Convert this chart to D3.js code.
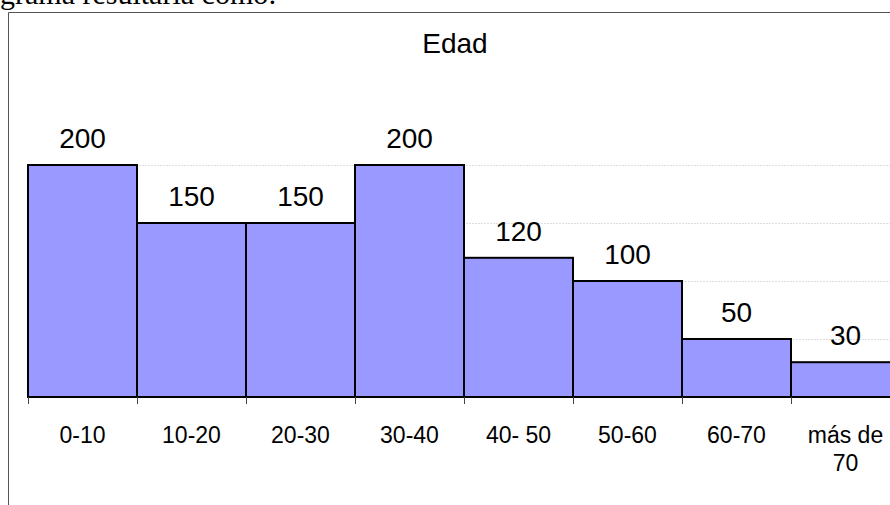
<!DOCTYPE html>
<html>
<head>
<meta charset="utf-8">
<script src="https://cdn.jsdelivr.net/npm/d3@7"></script>
<style>
  body { margin: 0; background: #fff; }
  text { font-family: "Liberation Sans", Arial, sans-serif; }
</style>
</head>
<body>
<div id="chart"></div>
<script>

// data
var categories = ["0-10", "10-20", "20-30", "30-40", "40- 50", "50-60", "60-70", "más de 70"];
var counts = [200, 150, 150, 200, 120, 100, 50, 30];
var gridValues = [50, 100, 150, 200];
var title = "Edad";
var pageText = "grama resultaría como:";

var W = 890, H = 505;

var svg = d3.select("#chart")
  .append("svg")
    .attr("width", W)
    .attr("height", H);

// cut-off line of the document above the chart
svg.append("text")
  .attr("x", 0)
  .attr("y", 4)
  .style("font-family", "'Liberation Serif', 'Times New Roman', serif")
  .style("font-size", "30px")
  .text(pageText);

// chart frame (runs off right and bottom)
svg.append("path")
  .attr("d", "M8.5," + H + "V12.5H" + (W + 5))
  .attr("fill", "none")
  .attr("stroke", "#555")
  .attr("stroke-width", 1);

// title
svg.append("text")
  .attr("x", 455)
  .attr("y", 53)
  .attr("text-anchor", "middle")
  .style("font-size", "28px")
  .text(title);

// scales
var x = d3.scaleBand()
  .domain(categories)
  .range([28, 900])
  .padding(0);

var y = d3.scaleLinear()
  .domain([0, 200])
  .range([397, 165]);

// gridlines
svg.append("g")
  .selectAll("line")
  .data(gridValues)
  .enter()
  .append("line")
    .attr("x1", 28)
    .attr("x2", 900)
    .attr("y1", function(d) { return y(d) + 0.5; })
    .attr("y2", function(d) { return y(d) + 0.5; })
    .attr("stroke", "#dedede")
    .attr("stroke-dasharray", "2,1");

// bars
svg.append("g")
  .selectAll("rect")
  .data(counts)
  .enter()
  .append("rect")
    .attr("x", function(d, i) { return x(categories[i]); })
    .attr("y", function(d) { return y(d); })
    .attr("width", x.bandwidth())
    .attr("height", function(d) { return y(0) - y(d); })
    .attr("fill", "#9999ff")
    .attr("stroke", "#000")
    .attr("stroke-width", 2);

// x axis line and boundary ticks
svg.append("line")
  .attr("x1", 28).attr("x2", 900)
  .attr("y1", y(0)).attr("y2", y(0))
  .attr("stroke", "#000")
  .attr("stroke-width", 2);

svg.append("g")
  .selectAll("line")
  .data(categories)
  .enter()
  .append("line")
    .attr("x1", function(d) { return x(d) + 0.5; })
    .attr("x2", function(d) { return x(d) + 0.5; })
    .attr("y1", y(0))
    .attr("y2", y(0) + 7)
    .attr("stroke", "#444")
    .attr("stroke-width", 1);

// category labels (wrap long ones)
var labels = svg.append("g")
  .selectAll("text")
  .data(categories)
  .enter()
  .append("text")
    .attr("x", function(d) { return x(d) + x.bandwidth() / 2; })
    .attr("y", 443)
    .attr("text-anchor", "middle")
    .style("font-size", "23px")
    .text(function(d) { return d; });

labels.each(function(d) {
  var t = d3.select(this);
  if (this.getComputedTextLength() > 90) {
    var cut = d.lastIndexOf(" ");
    var cx = t.attr("x");
    t.text(null);
    t.append("tspan").attr("x", cx).text(d.slice(0, cut));
    t.append("tspan").attr("x", cx).attr("dy", 28).text(d.slice(cut + 1));
  }
});

// value labels
svg.append("g")
  .selectAll("text")
  .data(counts)
  .enter()
  .append("text")
    .attr("x", function(d, i) { return x(categories[i]) + x.bandwidth() / 2; })
    .attr("y", function(d) { return y(d) - 17; })
    .attr("text-anchor", "middle")
    .style("font-size", "28px")
    .text(function(d) { return d; });

</script>
</body>
</html>
